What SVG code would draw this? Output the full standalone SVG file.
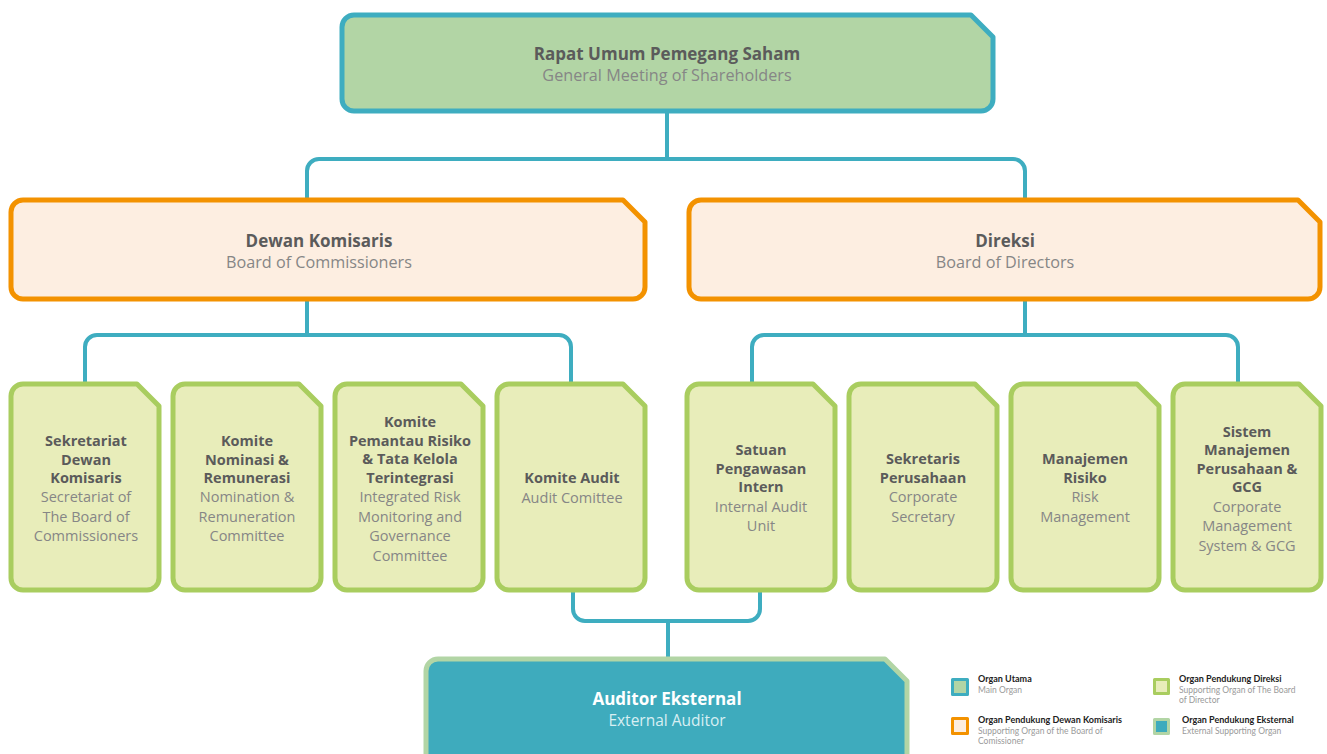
<svg xmlns="http://www.w3.org/2000/svg" xmlns:xlink="http://www.w3.org/1999/xlink" width="1327" height="754" viewBox="0 0 1327 754">
<style>
  .main { fill: #b2d5a5; stroke: #3eadc0; stroke-width: 5; stroke-linejoin: round; }
  .boc { fill: #fdeee1; stroke: #f39200; stroke-width: 5; stroke-linejoin: round; }
  .sup { fill: #e8edba; stroke: #a9cd5f; stroke-width: 5; stroke-linejoin: round; }
  .ext { fill: #3eabbd; stroke: #b2d5a5; stroke-width: 5; stroke-linejoin: round; }
  .conn { fill: none; stroke: #3eadc0; stroke-width: 4; }
  .t { font-family: "Open Sans", "Liberation Sans", sans-serif; text-anchor: middle; }
  .b { font-weight: 700; fill: #5b5b5b; }
  .r { font-weight: 400; fill: #868686; }
  .big { font-size: 17px; }
  .sub { font-size: 16.2px; }
  .sm { font-size: 14.5px; }
  .lb { font-family: Lato, "Liberation Sans", sans-serif; font-size: 9px; font-weight: 700; fill: #222; }
  .lr { font-family: Lato, "Liberation Sans", sans-serif; font-size: 8.5px; fill: #9a9a9a; }
</style>
<defs>
  <path id="card" d="M12,0 H126 L148,22 V194 A12,12 0 0 1 136,206 H12 A12,12 0 0 1 0,194 V12 A12,12 0 0 1 12,0 Z"/>
</defs>

<g id="connectors">
  <path class="conn" d="M667,113 V159"/>
  <path class="conn" d="M307,199 V171 A12,12 0 0 1 319,159 H1013 A12,12 0 0 1 1025,171 V199"/>
  <path class="conn" d="M307,301 V335"/>
  <path class="conn" d="M85,383 V347 A12,12 0 0 1 97,335 H559 A12,12 0 0 1 571,347 V383"/>
  <path class="conn" d="M1025,301 V335"/>
  <path class="conn" d="M752,383 V347 A12,12 0 0 1 764,335 H1226 A12,12 0 0 1 1238,347 V383"/>
  <path class="conn" d="M573,591 V609 A12,12 0 0 0 585,621 H748 A12,12 0 0 0 760,609 V591"/>
  <path class="conn" d="M668,621 V657"/>
</g>

<g id="rups">
  <path class="main" d="M354,15 H971 L993,37 V99 A12,12 0 0 1 981,111 H354 A12,12 0 0 1 342,99 V27 A12,12 0 0 1 354,15 Z"/>
  <text class="t b big" x="667" y="60">Rapat Umum Pemegang Saham</text>
  <text class="t r sub" x="667" y="81">General Meeting of Shareholders</text>
</g>

<g id="dewan-komisaris">
  <path class="boc" d="M23,200 H623 L645,222 V287 A12,12 0 0 1 633,299 H23 A12,12 0 0 1 11,287 V212 A12,12 0 0 1 23,200 Z"/>
  <text class="t b big" x="319" y="247">Dewan Komisaris</text>
  <text class="t r sub" x="319" y="268">Board of Commissioners</text>
</g>

<g id="direksi">
  <path class="boc" d="M701,200 H1298 L1320,222 V287 A12,12 0 0 1 1308,299 H701 A12,12 0 0 1 689,287 V212 A12,12 0 0 1 701,200 Z"/>
  <text class="t b big" x="1005" y="247">Direksi</text>
  <text class="t r sub" x="1005" y="268">Board of Directors</text>
</g>

<g id="sekretariat-dk">
  <use xlink:href="#card" class="sup" x="11" y="384"/>
  <text class="t b sm" x="86" y="446">Sekretariat</text>
  <text class="t b sm" x="86" y="464.5">Dewan</text>
  <text class="t b sm" x="86" y="483">Komisaris</text>
  <text class="t r sm" x="86" y="502">Secretariat of</text>
  <text class="t r sm" x="86" y="521.5">The Board of</text>
  <text class="t r sm" x="86" y="541">Commissioners</text>
</g>

<g id="komite-nominasi">
  <use xlink:href="#card" class="sup" x="173" y="384"/>
  <text class="t b sm" x="247" y="446">Komite</text>
  <text class="t b sm" x="247" y="464.5">Nominasi &amp;</text>
  <text class="t b sm" x="247" y="483">Remunerasi</text>
  <text class="t r sm" x="247" y="502">Nomination &amp;</text>
  <text class="t r sm" x="247" y="521.5">Remuneration</text>
  <text class="t r sm" x="247" y="541">Committee</text>
</g>

<g id="komite-risiko">
  <use xlink:href="#card" class="sup" x="335" y="384"/>
  <text class="t b sm" x="410" y="427">Komite</text>
  <text class="t b sm" x="410" y="445.5">Pemantau Risiko</text>
  <text class="t b sm" x="410" y="464">&amp; Tata Kelola</text>
  <text class="t b sm" x="410" y="482.5">Terintegrasi</text>
  <text class="t r sm" x="410" y="502">Integrated Risk</text>
  <text class="t r sm" x="410" y="521.5">Monitoring and</text>
  <text class="t r sm" x="410" y="541">Governance</text>
  <text class="t r sm" x="410" y="560.5">Committee</text>
</g>

<g id="komite-audit">
  <use xlink:href="#card" class="sup" x="497" y="384"/>
  <text class="t b sm" x="572" y="483">Komite Audit</text>
  <text class="t r sm" x="572" y="502.5">Audit Comittee</text>
</g>

<g id="spi">
  <use xlink:href="#card" class="sup" x="687" y="384"/>
  <text class="t b sm" x="761" y="455">Satuan</text>
  <text class="t b sm" x="761" y="473.5">Pengawasan</text>
  <text class="t b sm" x="761" y="492">Intern</text>
  <text class="t r sm" x="761" y="511.5">Internal Audit</text>
  <text class="t r sm" x="761" y="531">Unit</text>
</g>

<g id="sekretaris-perusahaan">
  <use xlink:href="#card" class="sup" x="849" y="384"/>
  <text class="t b sm" x="923" y="464">Sekretaris</text>
  <text class="t b sm" x="923" y="482.5">Perusahaan</text>
  <text class="t r sm" x="923" y="502">Corporate</text>
  <text class="t r sm" x="923" y="521.5">Secretary</text>
</g>

<g id="manajemen-risiko">
  <use xlink:href="#card" class="sup" x="1011" y="384"/>
  <text class="t b sm" x="1085" y="464">Manajemen</text>
  <text class="t b sm" x="1085" y="482.5">Risiko</text>
  <text class="t r sm" x="1085" y="502">Risk</text>
  <text class="t r sm" x="1085" y="521.5">Management</text>
</g>

<g id="sistem-manajemen">
  <use xlink:href="#card" class="sup" x="1173" y="384"/>
  <text class="t b sm" x="1247" y="436.5">Sistem</text>
  <text class="t b sm" x="1247" y="455">Manajemen</text>
  <text class="t b sm" x="1247" y="473.5">Perusahaan &amp;</text>
  <text class="t b sm" x="1247" y="492">GCG</text>
  <text class="t r sm" x="1247" y="511.5">Corporate</text>
  <text class="t r sm" x="1247" y="531">Management</text>
  <text class="t r sm" x="1247" y="550.5">System &amp; GCG</text>
</g>

<g id="auditor-eksternal">
  <path class="ext" d="M438,659 H885 L907,681 V775 H426 V671 A12,12 0 0 1 438,659 Z"/>
  <text class="t big" x="667" y="705" style="font-weight:700; fill:#ffffff">Auditor Eksternal</text>
  <text class="t" x="667" y="726" style="font-size:15.5px; fill:#d8eff3">External Auditor</text>
</g>

<g id="legend">
  <rect class="main" x="952.5" y="679.5" width="15" height="15" style="stroke-width:3"/>
  <text class="lb" x="978" y="682">Organ Utama</text>
  <text class="lr" x="978" y="693">Main Organ</text>

  <rect class="boc" x="952.5" y="718.5" width="15" height="15" style="stroke-width:3"/>
  <text class="lb" x="978" y="723">Organ Pendukung Dewan Komisaris</text>
  <text class="lr" x="978" y="734">Supporting Organ of the Board of</text>
  <text class="lr" x="978" y="744">Comissioner</text>

  <rect class="sup" x="1154.5" y="679.5" width="14" height="14" style="stroke-width:3"/>
  <text class="lb" x="1179" y="682">Organ Pendukung Direksi</text>
  <text class="lr" x="1179" y="693">Supporting Organ of The Board</text>
  <text class="lr" x="1179" y="703">of Director</text>

  <rect class="ext" x="1154.5" y="719.5" width="14" height="14" style="stroke-width:3"/>
  <text class="lb" x="1182" y="723">Organ Pendukung Eksternal</text>
  <text class="lr" x="1182" y="734">External Supporting Organ</text>
</g>
</svg>
